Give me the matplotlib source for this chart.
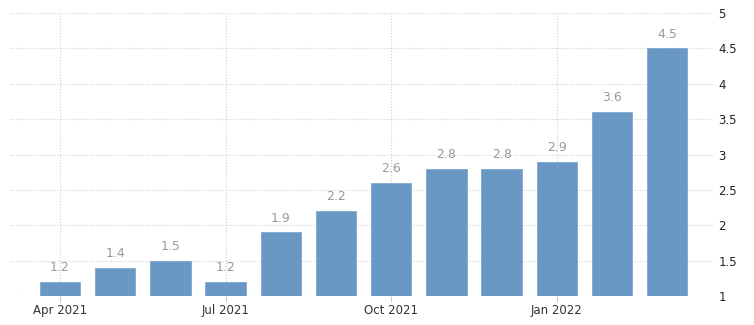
import matplotlib
matplotlib.use('Agg')
import matplotlib.pyplot as plt
import numpy as np

months = ['Apr 2021', 'May 2021', 'Jun 2021', 'Jul 2021', 'Aug 2021', 'Sep 2021',
          'Oct 2021', 'Nov 2021', 'Dec 2021', 'Jan 2022', 'Feb 2022', 'Mar 2022']
values = [1.2, 1.4, 1.5, 1.2, 1.9, 2.2, 2.6, 2.8, 2.8, 2.9, 3.6, 4.5]
tick_months = ['Apr 2021', 'Jul 2021', 'Oct 2021', 'Jan 2022']
y_ticks = [1, 1.5, 2, 2.5, 3, 3.5, 4, 4.5, 5]
y_labels = ['1', '1.5', '2', '2.5', '3', '3.5', '4', '4.5', '5']

plt.rcParams['font.family'] = ['DejaVu Sans']

fig = plt.figure(figsize=(7.54, 3.25), dpi=100)
ax = fig.add_axes([0.0133, 0.0892, 0.9323, 0.8708])

x = np.arange(len(months))
base = 1
ax.bar(x, np.array(values) - base, bottom=base, width=0.73,
       color='#6a98c4', edgecolor='#7fa8cf', linewidth=0.6, zorder=3)

# value labels above bars
for xi, v in zip(x, values):
    ax.text(xi, v + 0.11, '%.1f' % v, ha='center', va='bottom',
            color='#999999', fontsize=9, zorder=4)

ax.set_xlim(-0.906, 11.83)
ax.set_ylim(1, 5)

ax.set_xticks([months.index(m) for m in tick_months])
ax.set_xticklabels(tick_months, color='#333333', fontsize=8.5)
ax.yaxis.tick_right()
ax.set_yticks(y_ticks)
ax.set_yticklabels(y_labels, color='#222222', fontsize=8.5)
ax.tick_params(axis='y', length=0, pad=4)
ax.tick_params(axis='x', length=4, color='#cccccc', pad=2)

ax.grid(True, color='#cfcfcf', linestyle=':', linewidth=0.8, zorder=0)
for s in ax.spines.values():
    s.set_visible(False)

fig.savefig('out.png', dpi=100)
